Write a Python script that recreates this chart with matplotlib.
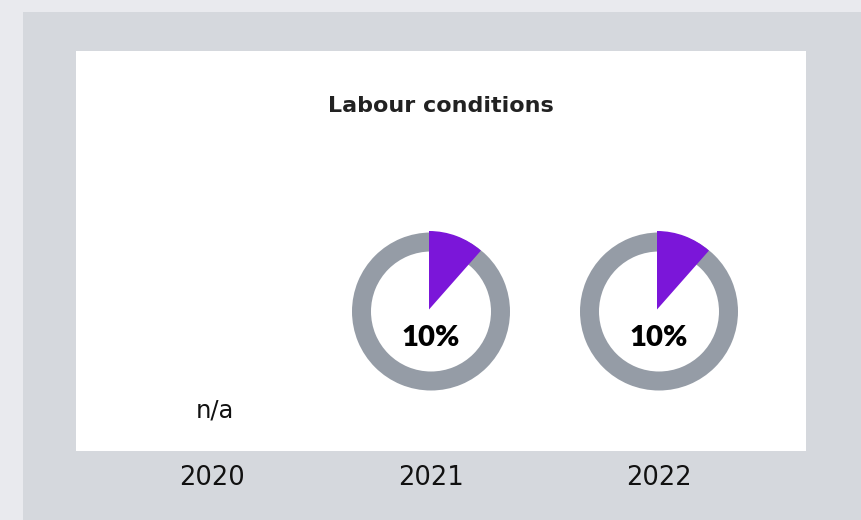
import matplotlib.pyplot as plt
import matplotlib.patches as mpatches

# --- data ---
title = "Labour conditions"
years = ["2020", "2021", "2022"]
values = [None, 10, 10]          # percent, None = not available

# --- style ---
BG = "#e9eaee"
PANEL = "#d5d8dd"
RING = "#959ca6"
PURPLE = "#7b16d9"
WIDE = ["DejaVu Sans"]
NUM = ["Lato", "DejaVu Sans"]

W, H = 861, 520
col_x = [212, 431, 659]
donut_y = 311.5
r_out, r_in = 79, 60

fig = plt.figure(figsize=(W / 100, H / 100), dpi=100, facecolor=BG)
ax = fig.add_axes([0, 0, 1, 1])
ax.set_xlim(0, W)
ax.set_ylim(H, 0)
ax.set_aspect("equal")
ax.axis("off")

# grey panel + white card
ax.add_patch(mpatches.Rectangle((23, 12), W - 23, H - 12, color=PANEL, lw=0))
ax.add_patch(mpatches.Rectangle((76, 51), 730, 400, color="white", lw=0))

ax.text(441, 106, title, ha="center", va="center", fontsize=16,
        fontweight="bold", family=WIDE, color="#222222")

for x, yr, v in zip(col_x, years, values):
    ax.text(x, 478, yr, ha="center", va="center", fontsize=18.5,
            family=WIDE, color="#111111")
    if v is None:
        ax.text(x + 3, 411, "n/a", ha="center", va="center", fontsize=17.5,
                family=WIDE, color="#111111")
        continue
    ax.add_patch(mpatches.Wedge((x, donut_y), r_out, 0, 360,
                                width=r_out - r_in, color=RING, lw=0))
    # y axis is inverted, so angles run clockwise from +x
    ang = v / 100 * 360
    ax.add_patch(mpatches.Wedge((x - 2, donut_y - 2), r_out - 0.5, -90, -90 + ang * 1.15,
                                color=PURPLE, lw=0))
    ax.text(x, 338, f"{v}%", ha="center", va="center", fontsize=21,
            fontweight="heavy", family=NUM, color="#000000")

fig.savefig("out.png", dpi=100, facecolor=BG)
